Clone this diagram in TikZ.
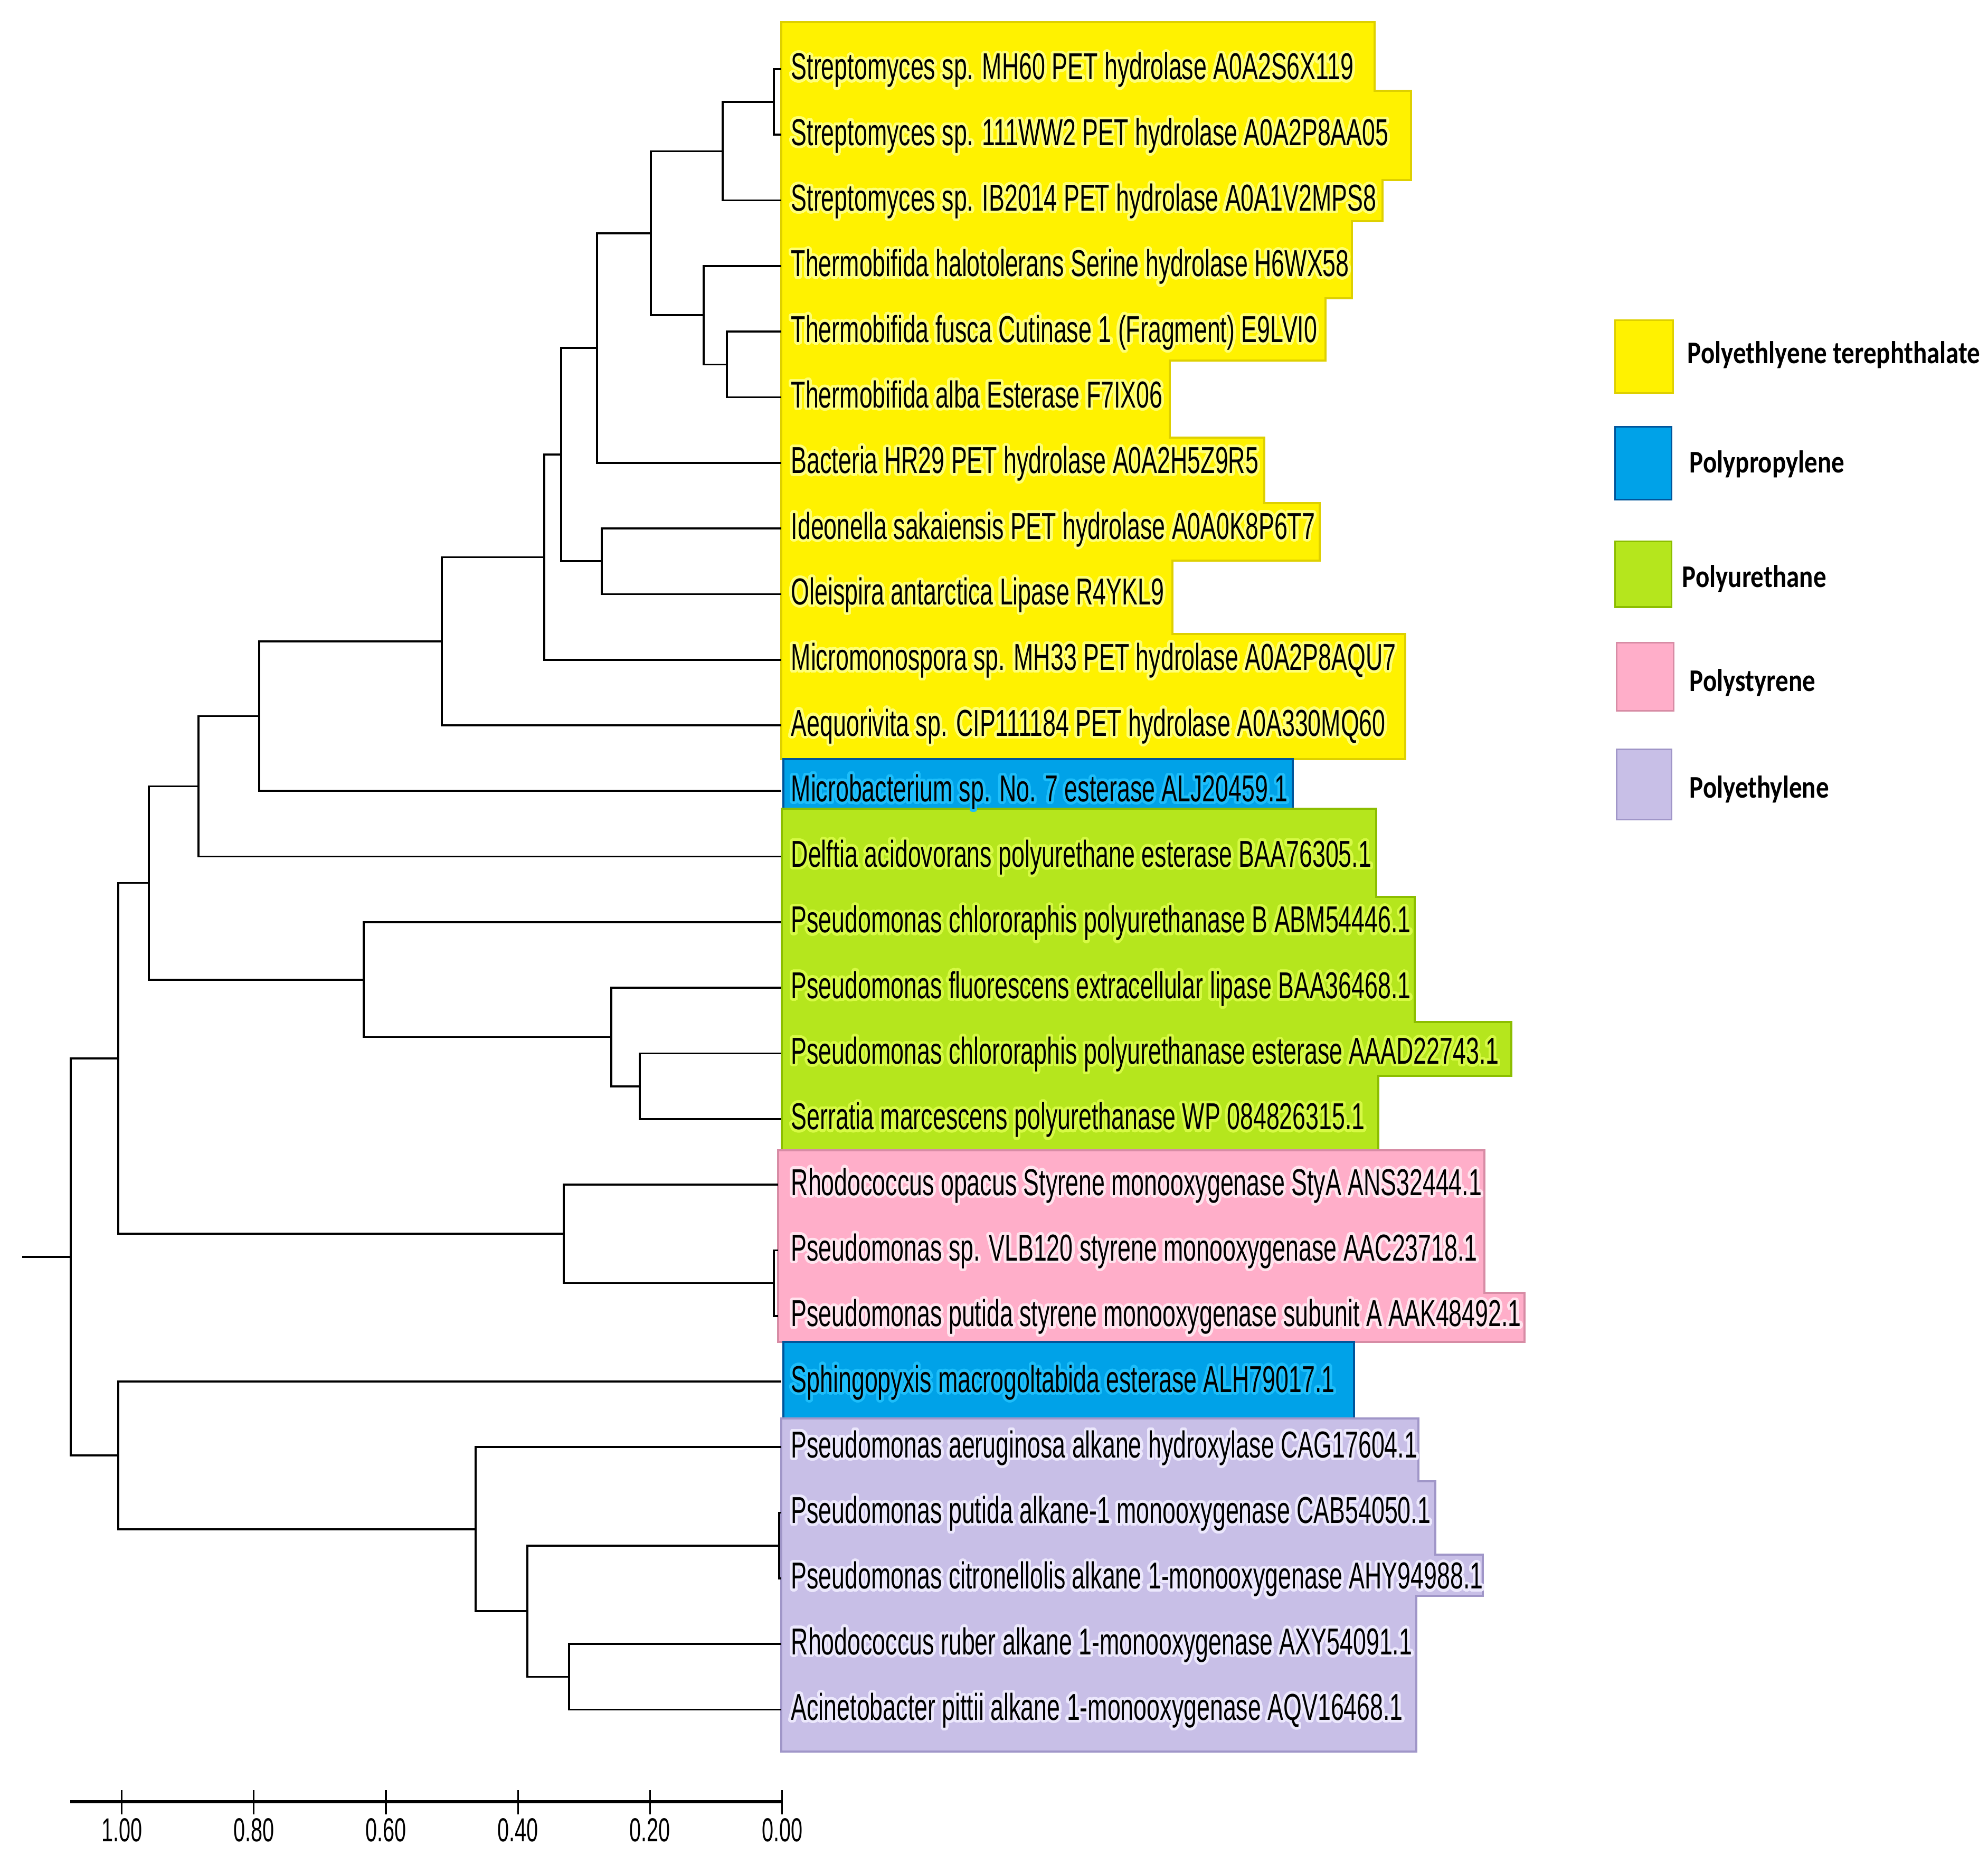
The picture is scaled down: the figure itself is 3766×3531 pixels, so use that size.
\documentclass[tikz,border=0pt]{standalone}
\usepackage{fontspec}
\usepackage{contour}
\newfontfamily\leaffont[FakeStretch=0.63]{Liberation Sans}
\newfontfamily\legfont[FakeStretch=0.82]{Carlito}
\contourlength{1.5pt}
\contournumber{32}
\definecolor{petY}{RGB}{255,242,0}
\definecolor{petYd}{RGB}{222,208,0}
\definecolor{ppB}{RGB}{0,162,232}
\definecolor{ppBd}{RGB}{0,85,155}
\definecolor{puG}{RGB}{181,230,29}
\definecolor{puGd}{RGB}{140,190,0}
\definecolor{psP}{RGB}{255,174,201}
\definecolor{psPd}{RGB}{215,140,165}
\definecolor{peV}{RGB}{200,191,231}
\definecolor{peVd}{RGB}{160,150,200}
\definecolor{glowY}{RGB}{255,255,120}
\definecolor{glowB}{RGB}{30,190,250}
\definecolor{glowG}{RGB}{215,250,70}
\definecolor{glowP}{RGB}{255,228,238}
\definecolor{glowV}{RGB}{236,232,252}
\tikzset{
  branch/.style={line width=1.05pt, black},
  axisline/.style={line width=1.5pt, black},
  tickline/.style={line width=0.9pt, black},
  leaflabel/.style={anchor=base west, inner sep=0pt, font=\leaffont\fontsize{20.2pt}{24pt}\selectfont},
  ticklabel/.style={anchor=base, inner sep=0pt, font=\leaffont\fontsize{17.9pt}{20pt}\selectfont},
  leglabel/.style={anchor=base west, inner sep=0pt, font=\legfont\bfseries\fontsize{17pt}{20pt}\selectfont},
  groupbox/.style={line width=0.04cm, line join=miter}
}
\begin{document}
\begin{tikzpicture}[x=0.01cm, y=-0.01cm]
\useasboundingbox (0,0) rectangle (3766,3531);
\fill[white] (0,0) rectangle (3766,3531);

% ---------- coloured label boxes ----------
\draw[groupbox, fill=petY, draw=petYd] (1480,42) -- (2604,42) -- (2604,172) -- (2673,172) -- (2673,341) -- (2619,341) -- (2619,419) -- (2561,419) -- (2561,565) -- (2511,565) -- (2511,683) -- (2216,683) -- (2216,829) -- (2395,829) -- (2395,953) -- (2500,953) -- (2500,1062) -- (2221,1062) -- (2221,1201) -- (2662,1201) -- (2662,1438) -- (1480,1438) -- cycle;
\draw[groupbox, fill=ppB, draw=ppBd] (1484,1438) rectangle (2449,1532);
\draw[groupbox, fill=puG, draw=puGd] (1481,1532) -- (2607,1532) -- (2607,1699) -- (2680,1699) -- (2680,1936) -- (2863,1936) -- (2863,2038) -- (2611,2038) -- (2611,2179) -- (1481,2179) -- cycle;
\draw[groupbox, fill=psP, draw=psPd] (1474,2179) -- (2812,2179) -- (2812,2449) -- (2888,2449) -- (2888,2542) -- (1474,2542) -- cycle;
\draw[groupbox, fill=ppB, draw=ppBd] (1484,2542) rectangle (2565,2687);
\draw[groupbox, fill=peV, draw=peVd] (1480,2687) -- (2687,2687) -- (2687,2806) -- (2719,2806) -- (2719,2945) -- (2809,2945) -- (2809,3023) -- (2683,3023) -- (2683,3318) -- (1480,3318) -- cycle;

% ---------- leaf end points ----------
\coordinate (l1) at (1480,131);
\coordinate (l2) at (1480,255.3);
\coordinate (l3) at (1480,379.6);
\coordinate (l4) at (1480,503.9);
\coordinate (l5) at (1480,628.2);
\coordinate (l6) at (1480,752.5);
\coordinate (l7) at (1480,876.8);
\coordinate (l8) at (1480,1001.1);
\coordinate (l9) at (1480,1125.4);
\coordinate (l10) at (1480,1249.7);
\coordinate (l11) at (1480,1374);
\coordinate (l12) at (1480,1498.3);
\coordinate (l13) at (1480,1622.6);
\coordinate (l14) at (1480,1746.9);
\coordinate (l15) at (1480,1871.2);
\coordinate (l16) at (1480,1995.5);
\coordinate (l17) at (1480,2119.8);
\coordinate (l18) at (1474,2244.1);
\coordinate (l19) at (1474,2368.4);
\coordinate (l20) at (1474,2492.7);
\coordinate (l21) at (1480,2617);
\coordinate (l22) at (1480,2741.3);
\coordinate (l23) at (1480,2865.6);
\coordinate (l24) at (1480,2989.9);
\coordinate (l25) at (1480,3114.2);
\coordinate (l26) at (1480,3238.5);

% ---------- internal nodes ----------
\coordinate (a12) at (1466,193.2);
\coordinate (a123) at (1369,286.4);
\coordinate (a56) at (1377,690.4);
\coordinate (a456) at (1333,597.1);
\coordinate (a1to6) at (1233,441.7);
\coordinate (a1to7) at (1131,659.3);
\coordinate (a89) at (1140,1063.3);
\coordinate (a1to9) at (1063,861.3);
\coordinate (a1to10) at (1031,1055.5);
\coordinate (a1to11) at (837,1214.7);
\coordinate (a1to12) at (491,1356.5);
\coordinate (a1to13) at (376,1489.6);
\coordinate (a1617) at (1212,2057.7);
\coordinate (a15to17) at (1158,1964.4);
\coordinate (a14to17) at (689,1855.7);
\coordinate (a1to17) at (282,1672.6);
\coordinate (a1920) at (1466,2430.6);
\coordinate (a18to20) at (1068,2337.3);
\coordinate (a1to20) at (224,2005);
\coordinate (a2324) at (1476,2927.8);
\coordinate (a2526) at (1078,3176.4);
\coordinate (a23to26) at (999,3052.1);
\coordinate (a22to26) at (901,2896.7);
\coordinate (a21to26) at (224,2756.8);
\coordinate (root) at (134,2381);
\coordinate (stem) at (42,2381);

% ---------- branches ----------
\draw[branch] (stem) -- (root);
\draw[branch] (root) |- (a1to20);
\draw[branch] (root) |- (a21to26);
\draw[branch] (a1to20) |- (a1to17);
\draw[branch] (a1to20) |- (a18to20);
\draw[branch] (a1to17) |- (a1to13);
\draw[branch] (a1to17) |- (a14to17);
\draw[branch] (a1to13) |- (a1to12);
\draw[branch] (a1to13) |- (l13);
\draw[branch] (a1to12) |- (a1to11);
\draw[branch] (a1to12) |- (l12);
\draw[branch] (a1to11) |- (a1to10);
\draw[branch] (a1to11) |- (l11);
\draw[branch] (a1to10) |- (a1to9);
\draw[branch] (a1to10) |- (l10);
\draw[branch] (a1to9) |- (a1to7);
\draw[branch] (a1to9) |- (a89);
\draw[branch] (a89) |- (l8);
\draw[branch] (a89) |- (l9);
\draw[branch] (a1to7) |- (a1to6);
\draw[branch] (a1to7) |- (l7);
\draw[branch] (a1to6) |- (a123);
\draw[branch] (a1to6) |- (a456);
\draw[branch] (a123) |- (a12);
\draw[branch] (a123) |- (l3);
\draw[branch] (a12) |- (l1);
\draw[branch] (a12) |- (l2);
\draw[branch] (a456) |- (l4);
\draw[branch] (a456) |- (a56);
\draw[branch] (a56) |- (l5);
\draw[branch] (a56) |- (l6);
\draw[branch] (a14to17) |- (l14);
\draw[branch] (a14to17) |- (a15to17);
\draw[branch] (a15to17) |- (l15);
\draw[branch] (a15to17) |- (a1617);
\draw[branch] (a1617) |- (l16);
\draw[branch] (a1617) |- (l17);
\draw[branch] (a18to20) |- (l18);
\draw[branch] (a18to20) |- (a1920);
\draw[branch] (a1920) |- (l19);
\draw[branch] (a1920) |- (l20);
\draw[branch] (a21to26) |- (l21);
\draw[branch] (a21to26) |- (a22to26);
\draw[branch] (a22to26) |- (l22);
\draw[branch] (a22to26) |- (a23to26);
\draw[branch] (a23to26) |- (a2324);
\draw[branch] (a23to26) |- (a2526);
\draw[branch] (a2324) |- (l23);
\draw[branch] (a2324) |- (l24);
\draw[branch] (a2526) |- (l25);
\draw[branch] (a2526) |- (l26);

% ---------- leaf labels ----------
\node[leaflabel] (t1) at (1498,151) {\contour{glowY}{Streptomyces sp. MH60 PET hydrolase A0A2S6X119}};
\node[leaflabel] (t2) at (1498,275.3) {\contour{glowY}{Streptomyces sp. 111WW2 PET hydrolase A0A2P8AA05}};
\node[leaflabel] (t3) at (1498,399.6) {\contour{glowY}{Streptomyces sp. IB2014 PET hydrolase A0A1V2MPS8}};
\node[leaflabel] (t4) at (1498,523.9) {\contour{glowY}{Thermobifida halotolerans Serine hydrolase H6WX58}};
\node[leaflabel] (t5) at (1498,648.2) {\contour{glowY}{Thermobifida fusca Cutinase 1 (Fragment) E9LVI0}};
\node[leaflabel] (t6) at (1498,772.5) {\contour{glowY}{Thermobifida alba Esterase F7IX06}};
\node[leaflabel] (t7) at (1498,896.8) {\contour{glowY}{Bacteria HR29 PET hydrolase A0A2H5Z9R5}};
\node[leaflabel] (t8) at (1498,1021.1) {\contour{glowY}{Ideonella sakaiensis PET hydrolase A0A0K8P6T7}};
\node[leaflabel] (t9) at (1498,1145.4) {\contour{glowY}{Oleispira antarctica Lipase R4YKL9}};
\node[leaflabel] (t10) at (1498,1269.7) {\contour{glowY}{Micromonospora sp. MH33 PET hydrolase A0A2P8AQU7}};
\node[leaflabel] (t11) at (1498,1394) {\contour{glowY}{Aequorivita sp. CIP111184 PET hydrolase A0A330MQ60}};
\node[leaflabel] (t12) at (1498,1518.3) {\contour{glowB}{Microbacterium sp. No. 7 esterase ALJ20459.1}};
\node[leaflabel] (t13) at (1498,1642.6) {\contour{glowG}{Delftia acidovorans polyurethane esterase BAA76305.1}};
\node[leaflabel] (t14) at (1498,1766.9) {\contour{glowG}{Pseudomonas chlororaphis polyurethanase B ABM54446.1}};
\node[leaflabel] (t15) at (1498,1891.2) {\contour{glowG}{Pseudomonas fluorescens extracellular lipase BAA36468.1}};
\node[leaflabel] (t16) at (1498,2015.5) {\contour{glowG}{Pseudomonas chlororaphis polyurethanase esterase AAAD22743.1}};
\node[leaflabel] (t17) at (1498,2139.8) {\contour{glowG}{Serratia marcescens polyurethanase WP 084826315.1}};
\node[leaflabel] (t18) at (1498,2264.1) {\contour{glowP}{Rhodococcus opacus Styrene monooxygenase StyA ANS32444.1}};
\node[leaflabel] (t19) at (1498,2388.4) {\contour{glowP}{Pseudomonas sp. VLB120 styrene monooxygenase AAC23718.1}};
\node[leaflabel] (t20) at (1498,2512.7) {\contour{glowP}{Pseudomonas putida styrene monooxygenase subunit A AAK48492.1}};
\node[leaflabel] (t21) at (1498,2637) {\contour{glowB}{Sphingopyxis macrogoltabida esterase ALH79017.1}};
\node[leaflabel] (t22) at (1498,2761.3) {\contour{glowV}{Pseudomonas aeruginosa alkane hydroxylase CAG17604.1}};
\node[leaflabel] (t23) at (1498,2885.6) {\contour{glowV}{Pseudomonas putida alkane-1 monooxygenase CAB54050.1}};
\node[leaflabel] (t24) at (1498,3009.9) {\contour{glowV}{Pseudomonas citronellolis alkane 1-monooxygenase AHY94988.1}};
\node[leaflabel] (t25) at (1498,3134.2) {\contour{glowV}{Rhodococcus ruber alkane 1-monooxygenase AXY54091.1}};
\node[leaflabel] (t26) at (1498,3258.5) {\contour{glowV}{Acinetobacter pittii alkane 1-monooxygenase AQV16468.1}};

% ---------- scale axis ----------
\coordinate (axL) at (133,3413);
\coordinate (axR) at (1482,3413);
\draw[axisline] (axL) -- (axR);
\foreach \xx/\lab [count=\i] in {230.6/1.00, 480.8/0.80, 731/0.60, 981.2/0.40, 1231.4/0.20, 1481.6/0.00}{
  \coordinate (tk\i) at (\xx,3413);
  \draw[tickline] (\xx,3391) -- (\xx,3437);
  \node[ticklabel] (tl\i) at (\xx,3488) {\lab};
}

% ---------- legend ----------
\draw[line width=0.03cm, fill=petY, draw=petYd] (3059,607) rectangle (3169,745);
\draw[line width=0.03cm, fill=ppB, draw=ppBd] (3059,809) rectangle (3166,947);
\draw[line width=0.03cm, fill=puG, draw=puGd] (3059,1026) rectangle (3166,1150);
\draw[line width=0.03cm, fill=psP, draw=psPd] (3062,1217) rectangle (3170,1346);
\draw[line width=0.03cm, fill=peV, draw=peVd] (3062,1419) rectangle (3166,1552);
\node[leglabel] (g1) at (3196,689) {Polyethlyene terephthalate};
\node[leglabel] (g2) at (3200,896) {Polypropylene};
\node[leglabel] (g3) at (3186,1113) {Polyurethane};
\node[leglabel] (g4) at (3200,1309) {Polystyrene};
\node[leglabel] (g5) at (3200,1511) {Polyethylene};
\end{tikzpicture}
\end{document}
